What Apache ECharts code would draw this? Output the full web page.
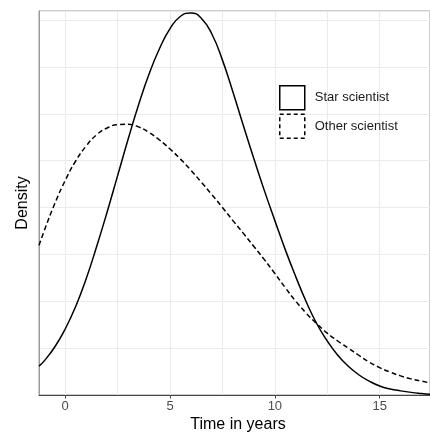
<!DOCTYPE html>
<html>
<head>
<meta charset="utf-8">
<script src="https://cdn.jsdelivr.net/npm/echarts@6/dist/echarts.min.js"></script>
<style>
html, body { margin: 0; padding: 0; background: #fff; }
#chart { width: 430px; height: 436px; }
</style>
</head>
<body>
<div id="chart"></div>
<script>
// values
const timeYears = [-1.25, -1, -0.5, 0, 0.5, 1, 1.5, 2, 2.5, 3, 3.5, 4, 4.5, 5, 5.5, 6, 6.5, 7, 7.5, 8,
    8.5, 9, 9.5, 10, 10.5, 11, 11.5, 12, 12.5, 13, 13.5, 14, 14.5, 15, 15.5, 16, 16.5, 17, 17.4];
const starScientist = [0.0077, 0.0091, 0.0128, 0.0176, 0.0236, 0.0310, 0.0396, 0.0488, 0.0585, 0.0682,
    0.0774, 0.0856, 0.0924, 0.0977, 0.1010, 0.1019, 0.1004, 0.0962, 0.0893, 0.0808,
    0.0718, 0.0630, 0.0545, 0.0465, 0.0387, 0.0315, 0.0248, 0.0190, 0.0144, 0.0106,
    0.0077, 0.0054, 0.0037, 0.0024, 0.0016, 0.0011, 0.0007, 0.0004, 0.0002];
const otherScientist = [0.0399, 0.0438, 0.0510, 0.0572, 0.0624, 0.0664, 0.0694, 0.0712, 0.0721, 0.0722,
    0.0715, 0.0700, 0.0680, 0.0656, 0.0629, 0.0599, 0.0567, 0.0534, 0.0500, 0.0465,
    0.0431, 0.0396, 0.0361, 0.0324, 0.0286, 0.0250, 0.0218, 0.0190, 0.0165, 0.0144,
    0.0125, 0.0106, 0.0088, 0.0073, 0.0061, 0.0051, 0.0043, 0.0037, 0.0032];
const xTicks = [0, 5, 10, 15];

const chart = echarts.init(document.getElementById('chart'));

const option = {
    animation: false,
    textStyle: { fontFamily: 'Liberation Sans, Arial, sans-serif' },
    grid: {
        left: 39, right: 0, top: 11, bottom: 41,
        show: true, borderColor: '#999', borderWidth: 1
    },
    // x axis title drawn as plain text so the grid is not shrunk to fit it
    graphic: [{
        type: 'text',
        x: 238, y: 425,
        style: {
            text: 'Time in years',
            font: '16px "Liberation Sans", Arial, sans-serif',
            fill: '#000',
            textAlign: 'center',
            textVerticalAlign: 'middle'
        }
    }],
    legend: {
        orient: 'vertical',
        left: 279, top: 85,
        padding: 0,
        itemWidth: 25, itemHeight: 24, itemGap: 3,
        textStyle: { fontSize: 13, color: '#1a1a1a', padding: [0, 0, 0, 5] },
        data: [
            { name: 'Star scientist', icon: 'rect',
              itemStyle: { color: '#fff', borderColor: '#000', borderWidth: 1.5 } },
            { name: 'Other scientist', icon: 'rect',
              itemStyle: { color: '#fff', borderColor: '#000', borderWidth: 1.5, borderType: [4, 3] } }
        ]
    },
    xAxis: {
        type: 'value',
        min: -1.25, max: 17.4,
        splitNumber: 4,
        axisLine: { onZero: false, lineStyle: { color: '#444', width: 1 } },
        axisTick: { show: true, length: 3.5, customValues: xTicks, lineStyle: { color: '#444' } },
        axisLabel: { customValues: xTicks, fontSize: 13, color: '#4d4d4d', margin: 5 },
        splitLine: { show: true, lineStyle: { color: '#ebebeb', width: 1 } },
        minorTick: { show: false, splitNumber: 2 },
        minorSplitLine: { show: true, lineStyle: { color: '#ebebeb', width: 1 } }
    },
    yAxis: {
        type: 'value',
        min: 0, max: 0.1024,
        interval: 0.0125,
        name: 'Density',
        nameLocation: 'middle',
        nameGap: 8,
        nameTextStyle: { fontSize: 16, color: '#000' },
        axisLine: { show: true, onZero: false, lineStyle: { color: '#999', width: 1 } },
        axisTick: { show: false },
        axisLabel: { show: false },
        splitLine: { show: true, lineStyle: { color: '#ebebeb', width: 1 } }
    },
    series: [
        {
            name: 'Star scientist',
            type: 'line',
            smooth: true,
            showSymbol: false,
            data: timeYears.map((t, i) => [t, starScientist[i]]),
            lineStyle: { color: '#000', width: 1.5 },
            itemStyle: { color: '#000' }
        },
        {
            name: 'Other scientist',
            type: 'line',
            smooth: true,
            showSymbol: false,
            data: timeYears.map((t, i) => [t, otherScientist[i]]),
            lineStyle: { color: '#000', width: 1.5, type: [5, 3] },
            itemStyle: { color: '#000' }
        }
    ]
};

chart.setOption(option);
</script>
</body>
</html>
